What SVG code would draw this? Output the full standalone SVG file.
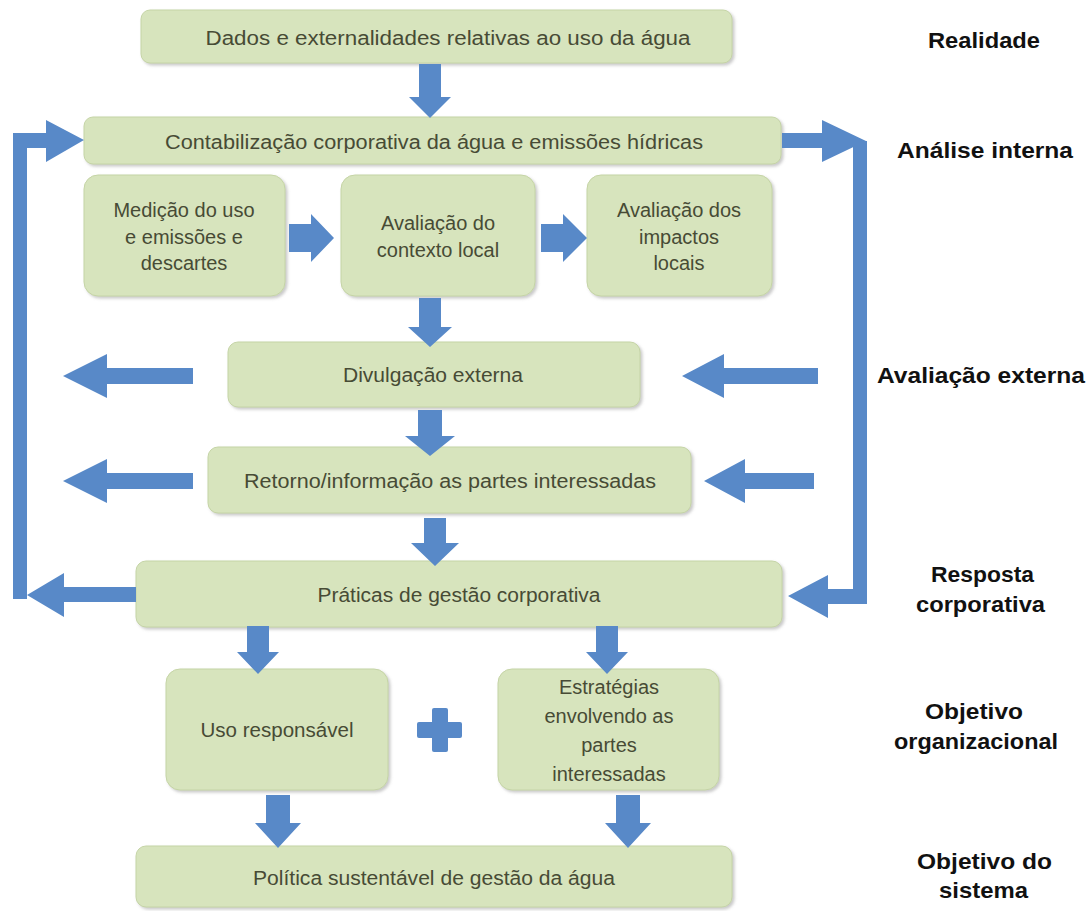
<svg xmlns="http://www.w3.org/2000/svg" width="1091" height="911" viewBox="0 0 1091 911">
<defs>
<filter id="sh" x="-5%" y="-10%" width="110%" height="125%">
<feDropShadow dx="2" dy="2" stdDeviation="1.5" flood-color="#888" flood-opacity="0.45"/>
</filter>
<style>
.box{fill:#d7e4bd;stroke:#c5d4a6;stroke-width:1;filter:url(#sh)}
.t{font-family:"Liberation Sans",Arial,sans-serif;font-size:20px;fill:#474b35;text-anchor:middle}
.lbl{font-family:"Liberation Sans",Arial,sans-serif;font-size:22px;font-weight:bold;fill:#111}
.ar{fill:#5889c8}
</style>
</defs>
<rect width="1091" height="911" fill="#fff"/>

<g id="n1"><rect class="box" x="141" y="10" width="591" height="53" rx="9"/><text class="t" x="448" y="45" textLength="485" lengthAdjust="spacingAndGlyphs">Dados e externalidades relativas ao uso da água</text></g>
<g id="n2"><rect class="box" x="84" y="117" width="697" height="47" rx="9"/><text class="t" x="434" y="149" textLength="538" lengthAdjust="spacingAndGlyphs">Contabilização corporativa da água e emissões hídricas</text></g>
<g id="n3"><rect class="box" x="84" y="175" width="201" height="121" rx="14"/><text class="t" x="184" y="217">Medição do uso</text><text class="t" x="184" y="244">e emissões e</text><text class="t" x="184" y="270">descartes</text></g>
<g id="n4"><rect class="box" x="341" y="175" width="194" height="121" rx="14"/><text class="t" x="438" y="230">Avaliação do</text><text class="t" x="438" y="257">contexto local</text></g>
<g id="n5"><rect class="box" x="587" y="175" width="185" height="121" rx="14"/><text class="t" x="679" y="217">Avaliação dos</text><text class="t" x="679" y="244">impactos</text><text class="t" x="679" y="270">locais</text></g>
<g id="n6"><rect class="box" x="228" y="342" width="412" height="65" rx="10"/><text class="t" x="433" y="382" textLength="180" lengthAdjust="spacingAndGlyphs">Divulgação externa</text></g>
<g id="n7"><rect class="box" x="208" y="447" width="483" height="66" rx="10"/><text class="t" x="450" y="488" textLength="412" lengthAdjust="spacingAndGlyphs">Retorno/informação as partes interessadas</text></g>
<g id="n8"><rect class="box" x="136" y="561" width="646" height="66" rx="10"/><text class="t" x="459" y="602" textLength="283" lengthAdjust="spacingAndGlyphs">Práticas de gestão corporativa</text></g>
<g id="n9"><rect class="box" x="166" y="669" width="222" height="121" rx="14"/><text class="t" x="277" y="737" textLength="153" lengthAdjust="spacingAndGlyphs">Uso responsável</text></g>
<g id="n10"><rect class="box" x="498" y="669" width="221" height="121" rx="14"/><text class="t" x="609" y="694">Estratégias</text><text class="t" x="609" y="723">envolvendo as</text><text class="t" x="609" y="752">partes</text><text class="t" x="609" y="781">interessadas</text></g>
<g id="n11"><rect class="box" x="136" y="846" width="596" height="61" rx="10"/><text class="t" x="434" y="885" textLength="362" lengthAdjust="spacingAndGlyphs">Política sustentável de gestão da água</text></g>

<g id="labels">
<text class="lbl" x="928" y="48" textLength="112" lengthAdjust="spacingAndGlyphs">Realidade</text>
<text class="lbl" x="897" y="158" textLength="176" lengthAdjust="spacingAndGlyphs">Análise interna</text>
<text class="lbl" x="877" y="383" textLength="208" lengthAdjust="spacingAndGlyphs">Avaliação externa</text>
<text class="lbl" x="931" y="582" textLength="103" lengthAdjust="spacingAndGlyphs">Resposta</text>
<text class="lbl" x="916" y="612" textLength="129" lengthAdjust="spacingAndGlyphs">corporativa</text>
<text class="lbl" x="925" y="719" textLength="98" lengthAdjust="spacingAndGlyphs">Objetivo</text>
<text class="lbl" x="894" y="749" textLength="164" lengthAdjust="spacingAndGlyphs">organizacional</text>
<text class="lbl" x="917" y="869" textLength="135" lengthAdjust="spacingAndGlyphs">Objetivo do</text>
<text class="lbl" x="939" y="898" textLength="89" lengthAdjust="spacingAndGlyphs">sistema</text>
</g>

<g id="connectors">
<polygon class="ar" points="419,64 441,64 441,97 451,97 430,118 409,97 419,97"/>
<polygon class="ar" points="419,298 441,298 441,327 452,327 430,347 408,327 419,327"/>
<polygon class="ar" points="418,410 442,410 442,436 455,436 430,456 405,436 418,436"/>
<polygon class="ar" points="424,518 446,518 446,543 459,543 435,566 411,543 424,543"/>
<polygon class="ar" points="247,626 269,626 269,652 279,652 258,674 237,652 247,652"/>
<polygon class="ar" points="596,626 618,626 618,652 628,652 607,674 586,652 596,652"/>
<polygon class="ar" points="266,795 290,795 290,823 301,823 278,848 255,823 266,823"/>
<polygon class="ar" points="616,795 640,795 640,823 651,823 628,848 605,823 616,823"/>
<polygon class="ar" points="289,224 311,224 311,214 334,238 311,262 311,252 289,252"/>
<polygon class="ar" points="541,224 563,224 563,214 587,238 563,262 563,252 541,252"/>
<polygon class="ar" points="193,368 107,368 107,354 63,376 107,398 107,384 193,384"/>
<polygon class="ar" points="818,368 724,368 724,354 682,376 724,398 724,384 818,384"/>
<polygon class="ar" points="193,473 107,473 107,459 63,481 107,503 107,489 193,489"/>
<polygon class="ar" points="814,473 745,473 745,459 704,481 745,503 745,489 814,489"/>
<path class="ar" d="M136,587 L64,587 L64,573 L27,595 L64,617 L64,602 L136,602 Z"/>
<rect class="ar" x="13" y="133" width="14" height="466"/>
<path class="ar" d="M13,133 L46,133 L46,120 L84,140 L46,162 L46,148 L13,148 Z"/>
<path class="ar" d="M782,133 L822,133 L822,120 L866,141 L822,162 L822,148 L782,148 Z"/>
<rect class="ar" x="853" y="141" width="14" height="463"/>
<path class="ar" d="M867,589 L828,589 L828,575 L788,596 L828,618 L828,604 L867,604 Z"/>
</g>

<g id="plus">
<rect class="ar" x="417" y="722" width="45" height="16" rx="2"/>
<rect class="ar" x="432" y="708" width="16" height="44" rx="2"/>
</g>
</svg>
